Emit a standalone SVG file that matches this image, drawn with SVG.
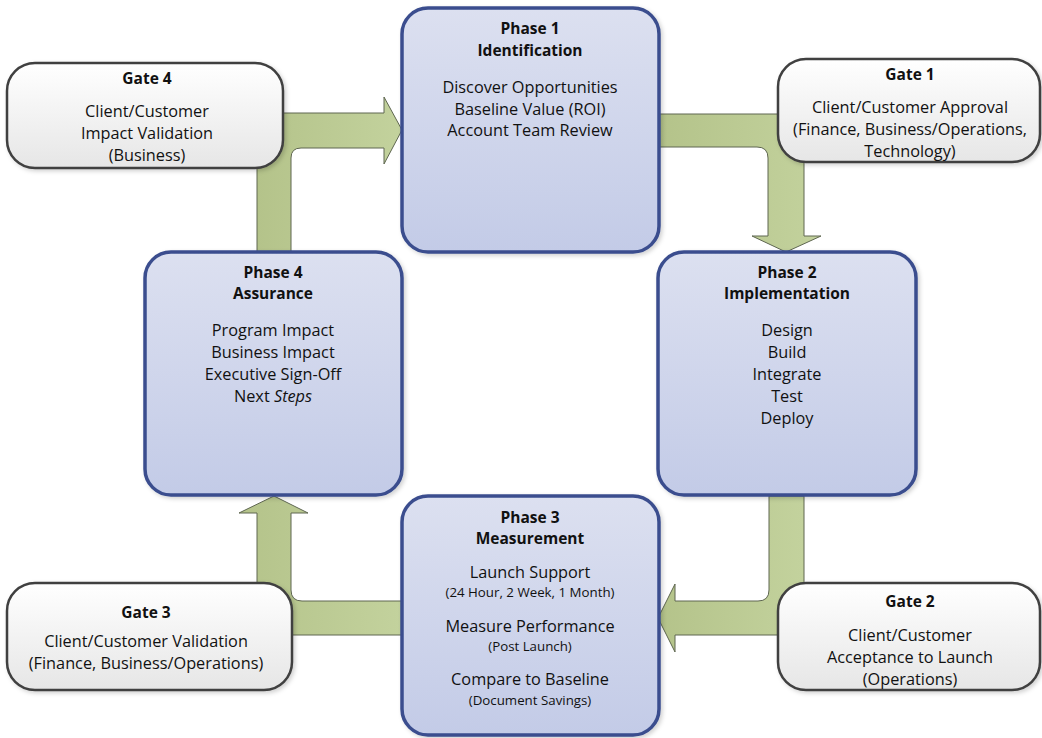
<svg xmlns="http://www.w3.org/2000/svg" width="1042" height="738" viewBox="0 0 1042 738">
<defs>
<linearGradient id="phaseFill" x1="0" y1="0" x2="0" y2="1">
<stop offset="0" stop-color="#DCE0F0"/>
<stop offset="1" stop-color="#C3CBE7"/>
</linearGradient>
<linearGradient id="gateFill" x1="0" y1="0" x2="0" y2="1">
<stop offset="0" stop-color="#FFFFFF"/>
<stop offset="1" stop-color="#E6E6E6"/>
</linearGradient>
<linearGradient id="arrowH" x1="0" y1="0" x2="1" y2="0">
<stop offset="0" stop-color="#B4C38A"/>
<stop offset="1" stop-color="#C3D29D"/>
</linearGradient>
<filter id="shadow" x="-10%" y="-10%" width="125%" height="125%">
<feDropShadow dx="2" dy="2" stdDeviation="2" flood-color="#000" flood-opacity="0.18"/>
</filter>
<style>
.phase{fill:url(#phaseFill);stroke:#3A4E8E;stroke-width:3.5;filter:url(#shadow)}
.gate{fill:url(#gateFill);stroke:#3F3F3F;stroke-width:2.5;filter:url(#shadow)}
.arrow{fill:url(#arrowH);stroke:#5E6650;stroke-width:1}
text{font-family:"Open Sans","Liberation Sans",sans-serif;fill:#111;text-anchor:middle}
.t{font-weight:700;font-size:15.5px}
.b{font-size:16.3px}
.s{font-size:13.3px}
</style>
</defs>
<g id="connectors">
<path class="arrow" d="M257 252 L257 135 Q257 113 279 113 L384 113 L384 97 L402 130 L384 164 L384 148 L301 148 Q291 148 291 158 L291 252 Z"/>
<path class="arrow" d="M659 114 L782 114 Q804 114 804 136 L804 236 L821 236 L786 252 L752 236 L768 236 L768 158 Q768 147 757 147 L659 147 Z"/>
<path class="arrow" d="M769 496 L804 496 L804 613 Q804 635 782 635 L675 635 L675 652 L658 618 L675 584 L675 601 L758 601 Q769 601 769 590 Z"/>
<path class="arrow" d="M402 601 L302 601 Q291 601 291 590 L291 513 L308 513 L274 496 L239 513 L257 513 L257 613 Q257 635 279 635 L402 635 Z"/>
</g>
<g id="phase1">
<rect class="phase" x="402" y="8" width="257" height="244" rx="26"/>
<text class="t" x="530" y="34">Phase 1</text>
<text class="t" x="530" y="56">Identification</text>
<text class="b" x="530" y="93">Discover Opportunities</text>
<text class="b" x="530" y="114.5">Baseline Value (ROI)</text>
<text class="b" x="530" y="136">Account Team Review</text>
</g>
<g id="phase2">
<rect class="phase" x="658" y="252" width="258" height="243" rx="26"/>
<text class="t" x="787" y="278">Phase 2</text>
<text class="t" x="787" y="299">Implementation</text>
<text class="b" x="787" y="336">Design</text>
<text class="b" x="787" y="358">Build</text>
<text class="b" x="787" y="380">Integrate</text>
<text class="b" x="787" y="402">Test</text>
<text class="b" x="787" y="424">Deploy</text>
</g>
<g id="phase3">
<rect class="phase" x="402" y="496" width="257" height="239" rx="26"/>
<text class="t" x="530" y="523">Phase 3</text>
<text class="t" x="530" y="544">Measurement</text>
<text class="b" x="530" y="578">Launch Support</text>
<text class="s" x="530" y="597">(24 Hour, 2 Week, 1 Month)</text>
<text class="b" x="530" y="632">Measure Performance</text>
<text class="s" x="530" y="651">(Post Launch)</text>
<text class="b" x="530" y="685">Compare to Baseline</text>
<text class="s" x="530" y="705">(Document Savings)</text>
</g>
<g id="phase4">
<rect class="phase" x="145" y="252" width="257" height="243" rx="26"/>
<text class="t" x="273" y="278">Phase 4</text>
<text class="t" x="273" y="299">Assurance</text>
<text class="b" x="273" y="336">Program Impact</text>
<text class="b" x="273" y="358">Business Impact</text>
<text class="b" x="273" y="380">Executive Sign-Off</text>
<text class="b" x="273" y="402">Next <tspan font-style="italic">Steps</tspan></text>
</g>
<g id="gate1">
<rect class="gate" x="778" y="59" width="262" height="103" rx="28"/>
<text class="t" x="910" y="80">Gate 1</text>
<text class="b" x="910" y="113">Client/Customer Approval</text>
<text class="b" x="910" y="135">(Finance, Business/Operations,</text>
<text class="b" x="910" y="157">Technology)</text>
</g>
<g id="gate2">
<rect class="gate" x="778" y="583" width="262" height="107" rx="28"/>
<text class="t" x="910" y="607">Gate 2</text>
<text class="b" x="910" y="641">Client/Customer</text>
<text class="b" x="910" y="663">Acceptance to Launch</text>
<text class="b" x="910" y="685">(Operations)</text>
</g>
<g id="gate3">
<rect class="gate" x="7" y="583" width="285" height="107" rx="28"/>
<text class="t" x="146" y="618">Gate 3</text>
<text class="b" x="146" y="647">Client/Customer Validation</text>
<text class="b" x="146" y="669">(Finance, Business/Operations)</text>
</g>
<g id="gate4">
<rect class="gate" x="7" y="63" width="276" height="105" rx="28"/>
<text class="t" x="147" y="84">Gate 4</text>
<text class="b" x="147" y="117">Client/Customer</text>
<text class="b" x="147" y="139">Impact Validation</text>
<text class="b" x="147" y="161">(Business)</text>
</g>
</svg>
